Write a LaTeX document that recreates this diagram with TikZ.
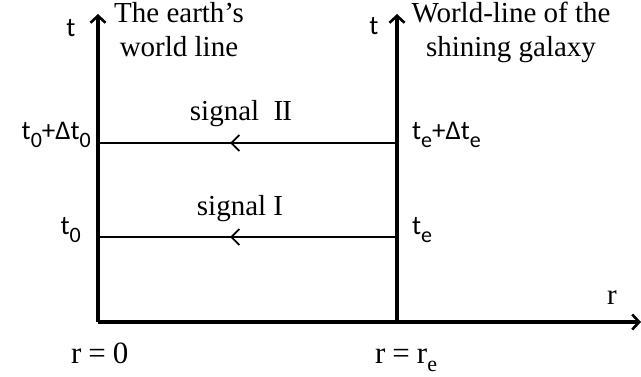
\documentclass[tikz,border=0pt]{standalone}
\usepackage{fontspec}
\setmainfont{Liberation Serif}
\newfontfamily\mfont{Carlito}
\usetikzlibrary{arrows.meta}
\newcommand{\msub}[1]{\raisebox{-8pt}{\fontsize{22}{22}\selectfont #1}}
\begin{document}
\begin{tikzpicture}[x=1pt,y=-1pt,
  axis/.style={line width=3.2pt,-{Straight Barb[length=7pt,width=15pt,line width=2.6pt]}},
  sig/.style={line width=2pt},
  sigtip/.style={line width=2pt,-{Straight Barb[length=8pt,width=16pt,line width=1.8pt]}},
  txt/.style={font=\fontsize{29}{34}\selectfont,inner sep=0pt,align=center},
  rlab/.style={font=\fontsize{31}{34}\selectfont,inner sep=0pt},
  mlab/.style={font=\mfont\fontsize{27}{30}\selectfont,inner sep=0pt}]
\useasboundingbox (0,0) rectangle (641,377);
\coordinate (O) at (98,322);
\coordinate (E) at (397,322);
\coordinate (Otop) at (98,14);
\coordinate (Etop) at (397,14);
\coordinate (Rend) at (641,322);
\coordinate (O2) at (98,143);
\coordinate (E2) at (397,143);
\coordinate (M2) at (230,143);
\coordinate (O1) at (98,237);
\coordinate (E1) at (397,237);
\coordinate (M1) at (230,237);
\draw[axis] (O) -- (Otop);
\draw[axis] (E) -- (Etop);
\draw[axis] (O) -- (Rend);
\draw[sig] (E2) -- (O2);
\draw[sigtip] (E2) -- (M2);
\draw[sig] (E1) -- (O1);
\draw[sigtip] (E1) -- (M1);
% labels
\node[txt,anchor=base] (earth) at (179,57) {The earth’s\\world line};
\node[txt,anchor=base] (gal) at (511,57) {World-line of the\\shining galaxy};
\node[mlab,anchor=base] (tl) at (71,37) {t};
\node[mlab,anchor=base] (tr) at (374,35) {t};
\node[txt,anchor=base] (sII) at (241,121) {signal\ \ I\kern-1pt I};
\node[txt,anchor=base] (sI) at (240,216) {signal I};
\node[mlab,anchor=base east] (t0d) at (91,140) {t\msub{0}+Δt\msub{0}};
\node[mlab,anchor=base west] (ted) at (412,140) {t\msub{e}+Δt\msub{e}};
\node[mlab,anchor=base east] (t0) at (81,235) {t\msub{0}};
\node[mlab,anchor=base west] (te) at (412,235) {t\msub{e}};
\node[txt,anchor=base] (r) at (612,305) {r};
\node[rlab,anchor=base west] (r0) at (71,363) {r\hspace{7pt}=\hspace{7pt}0};
\node[rlab,anchor=base west] (re) at (375,363) {r\hspace{7pt}=\hspace{7pt}r\msub{e}};
\end{tikzpicture}
\end{document}
